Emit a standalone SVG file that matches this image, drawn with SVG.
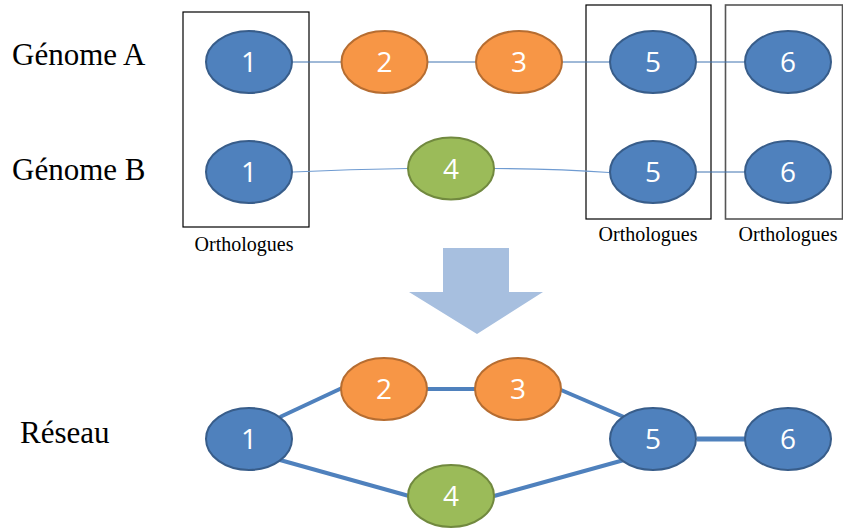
<svg xmlns="http://www.w3.org/2000/svg" width="843" height="528" viewBox="0 0 843 528">
<style>
.lbl{font-family:"Liberation Serif","Times New Roman",serif;fill:#000}
.big{font-size:31px}
.small{font-size:20px}
.num{font-family:"Open Sans","Liberation Sans",sans-serif;font-size:28px;fill:#fff;text-anchor:middle}
.blue{fill:#4f81bd;stroke:#385d8a;stroke-width:2}
.orange{fill:#f79646;stroke:#b66d31;stroke-width:2}
.green{fill:#9bbb59;stroke:#71893f;stroke-width:2}
.box{fill:none;stroke:#000;stroke-width:1.2}
.thin{fill:none;stroke:#3f72af;stroke-width:1}
.thinB{fill:none;stroke:#6f9bd1;stroke-width:1.2}
.thick{fill:none;stroke:#4f81bd;stroke-width:4}
</style>

<g id="labels">
<text class="lbl big" x="12" y="65">Génome A</text>
<text class="lbl big" x="12" y="180">Génome B</text>
<text class="lbl big" x="20" y="443">Réseau</text>
</g>

<g id="boxes">
<rect class="box" x="183" y="12" width="126" height="215"/>
<rect class="box" x="586" y="5" width="125" height="214"/>
<rect class="box" x="725.5" y="5" width="117" height="214" style="stroke:#555;stroke-width:1.6"/>
<text class="lbl small" x="244" y="251" text-anchor="middle">Orthologues</text>
<text class="lbl small" x="648" y="241" text-anchor="middle">Orthologues</text>
<text class="lbl small" x="788" y="241" text-anchor="middle">Orthologues</text>
</g>

<g id="connectors">
<line class="thin" x1="293" y1="62" x2="341" y2="62"/>
<line class="thin" x1="428" y1="62" x2="476" y2="62"/>
<line class="thin" x1="562" y1="62" x2="609" y2="62"/>
<line class="thin" x1="697" y1="62" x2="744" y2="62"/>
<path class="thinB" d="M293,172 Q350,169 408,168.5"/>
<path class="thinB" d="M494,168.5 Q560,169 609,172.5"/>
<line class="thin" x1="697" y1="172" x2="744" y2="172"/>
<line class="thick" x1="280" y1="417" x2="342" y2="388"/>
<line class="thick" x1="427" y1="389" x2="476" y2="389"/>
<line class="thick" x1="561" y1="390" x2="624" y2="417"/>
<line class="thick" x1="280" y1="460" x2="409" y2="496"/>
<line class="thick" x1="494" y1="496" x2="624" y2="460"/>
<line class="thick" x1="697" y1="439" x2="745" y2="439" style="stroke-width:5"/>
</g>

<g id="arrow">
<polygon points="443,248 509,248 509,292 543,292 477,334 409,292 443,292" fill="#a7bfdf"/>
</g>

<g id="nodeA1"><ellipse class="blue" cx="249" cy="62" rx="43" ry="31"/><text class="num" x="249" y="72">1</text></g>
<g id="nodeA2"><ellipse class="orange" cx="384.5" cy="62" rx="43" ry="31"/><text class="num" x="384.5" y="72">2</text></g>
<g id="nodeA3"><ellipse class="orange" cx="519" cy="62" rx="43" ry="31"/><text class="num" x="519" y="72">3</text></g>
<g id="nodeA5"><ellipse class="blue" cx="653" cy="62" rx="43" ry="31"/><text class="num" x="653" y="72">5</text></g>
<g id="nodeA6"><ellipse class="blue" cx="788" cy="62" rx="43" ry="31"/><text class="num" x="788" y="72">6</text></g>

<g id="nodeB1"><ellipse class="blue" cx="249" cy="172" rx="43" ry="31"/><text class="num" x="249" y="182">1</text></g>
<g id="nodeB4"><ellipse class="green" cx="451" cy="168.5" rx="43" ry="31"/><text class="num" x="451" y="178.5">4</text></g>
<g id="nodeB5"><ellipse class="blue" cx="653" cy="172" rx="43" ry="31"/><text class="num" x="653" y="182">5</text></g>
<g id="nodeB6"><ellipse class="blue" cx="788" cy="172" rx="43" ry="31"/><text class="num" x="788" y="182">6</text></g>

<g id="net1"><ellipse class="blue" cx="249" cy="439" rx="43" ry="31"/><text class="num" x="249" y="449">1</text></g>
<g id="net2"><ellipse class="orange" cx="384" cy="389" rx="43" ry="31"/><text class="num" x="384" y="399">2</text></g>
<g id="net3"><ellipse class="orange" cx="518" cy="389" rx="43" ry="31"/><text class="num" x="518" y="399">3</text></g>
<g id="net4"><ellipse class="green" cx="451" cy="496" rx="43" ry="31"/><text class="num" x="451" y="506">4</text></g>
<g id="net5"><ellipse class="blue" cx="653" cy="439" rx="43" ry="31"/><text class="num" x="653" y="449">5</text></g>
<g id="net6"><ellipse class="blue" cx="788" cy="439" rx="43" ry="31"/><text class="num" x="788" y="449">6</text></g>
</svg>
